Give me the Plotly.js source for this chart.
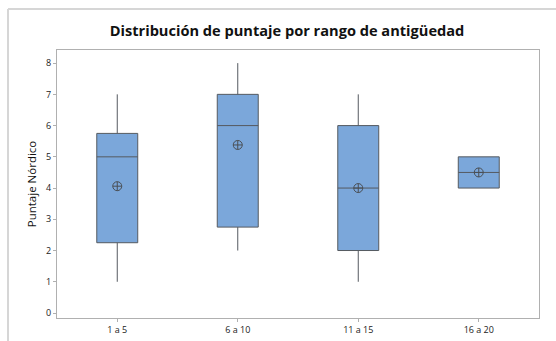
<!DOCTYPE html>
<html>
<head>
<meta charset="utf-8">
<script src="https://cdn.plot.ly/plotly-3.0.1.min.js"></script>
<style>html,body{margin:0;padding:0;background:#fff;overflow:hidden}#chart{width:556px;height:341px}</style>
</head>
<body>
<div id="chart"></div>
<script>
const categories = ["1 a 5", "6 a 10", "11 a 15", "16 a 20"];
const lowerWhisker = [1, 2, 1, 4];
const q1Values = [2.25, 2.75, 2, 4];
const medianValues = [5, 6, 4, 4.5];
const q3Values = [5.75, 7, 6, 5];
const upperWhisker = [7, 8, 7, 5];
const meanValues = [4.06, 5.38, 4.0, 4.5];
const yTicks = [0, 1, 2, 3, 4, 5, 6, 7, 8];

const L = 57, R = 539, T = 50, B = 318, W = 556, H = 341;
const px = v => (v - L) / (R - L);
const py = v => (B - v) / (B - T);

const box = {
  type: 'box',
  x: categories,
  q1: q1Values,
  median: medianValues,
  q3: q3Values,
  lowerfence: lowerWhisker,
  upperfence: upperWhisker,
  fillcolor: '#7ba7da',
  line: {color: '#555a60', width: 1},
  width: 0.34,
  whiskerwidth: 0,
  boxpoints: false,
  hoverinfo: 'skip',
  showlegend: false
};
const mean = {
  type: 'scatter',
  mode: 'markers',
  x: categories,
  y: meanValues,
  marker: {symbol: 'circle-cross-open', size: 9, color: '#4a4f55', line: {width: 1}},
  hoverinfo: 'skip',
  showlegend: false
};

const layout = {
  width: W, height: H,
  margin: {l: L, r: W - R, t: T, b: H - B, pad: 0},
  paper_bgcolor: '#ffffff',
  plot_bgcolor: '#ffffff',
  font: {family: 'Open Sans, sans-serif', color: '#222'},
  title: {
    text: '<b>Distribución de puntaje por rango de antigüedad</b>',
    font: {family: 'Open Sans, sans-serif', size: 14.6, color: '#111'},
    x: px(287), xref: 'paper', xanchor: 'center',
    y: 1 - 31 / H, yref: 'container', yanchor: 'middle'
  },
  xaxis: {
    type: 'category',
    range: [-0.5, 3.5],
    showline: true, linecolor: '#b0b0b0', linewidth: 1, mirror: true,
    ticks: 'outside', ticklen: 3, tickcolor: '#b0b0b0',
    tickfont: {size: 9, color: '#222'},
    showgrid: false, zeroline: false, fixedrange: true
  },
  yaxis: {
    range: [-0.16, 8.42],
    tickvals: yTicks,
    ticktext: yTicks.map(String),
    showline: true, linecolor: '#b0b0b0', linewidth: 1, mirror: true,
    ticks: 'outside', ticklen: 3, tickcolor: '#b0b0b0',
    tickfont: {size: 9, color: '#222'},
    showgrid: false, zeroline: false, fixedrange: true,
    title: {text: 'Puntaje Nórdico', font: {size: 11.5, color: '#111'}, standoff: 7}
  },
  shapes: [
    {type: 'line', xref: 'paper', yref: 'paper', x0: px(8), x1: px(560), y0: py(9), y1: py(9), line: {color: '#d6d6d6', width: 2}},
    {type: 'line', xref: 'paper', yref: 'paper', x0: px(8), x1: px(8), y0: py(9), y1: py(345), line: {color: '#d6d6d6', width: 2}}
  ]
};

Plotly.newPlot('chart', [box, mean], layout, {staticPlot: true, displayModeBar: false});
</script>
</body>
</html>
